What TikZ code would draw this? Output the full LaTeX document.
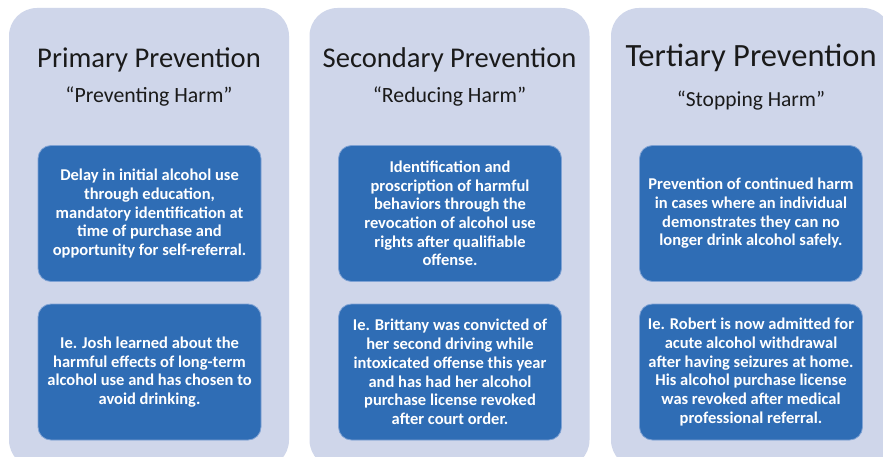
\documentclass[tikz,border=0pt]{standalone}
\usepackage{fontspec}
\setmainfont{Carlito}
\begin{document}
\begin{tikzpicture}[x=1pt,y=-1pt,
  panel/.style={fill=panelfill, rounded corners=28pt, minimum width=280pt, minimum height=460pt, inner sep=0pt},
  infobox/.style={fill=boxfill, draw=boxedge, line width=0.8pt, rounded corners=13pt,
    minimum width=223pt, minimum height=136pt, inner sep=0pt, text=white,
    align=center, font=\bfseries\fontsize{16.5}{18.7}\selectfont},
  title/.style={text=titlecol, anchor=base, font=\fontsize{28.6}{32}\selectfont},
  subtitle/.style={text=titlecol, anchor=base, font=\fontsize{21.8}{25}\selectfont}]
\definecolor{panelfill}{HTML}{CFD6EA}
\definecolor{boxfill}{HTML}{2F6DB5}
\definecolor{boxedge}{HTML}{7FA2D4}
\definecolor{titlecol}{HTML}{1A1A1A}
\useasboundingbox (0,0) rectangle (883,457);
\clip (0,0) rectangle (883,457);
\fill[white] (0,0) rectangle (883,457);

% three columns
\node[panel] (p1) at (149,238) {};
\node[panel] (p2) at (449.5,238) {};
\node[panel] (p3) at (751,238) {};

% headings
\node[title] (t1) at (149,68) {Primary Prevention};
\node[subtitle] (s1) at (149,103) {“Preventing Harm”};
\node[title] (t2) at (449.5,68) {Secondary Prevention};
\node[subtitle] (s2) at (449.5,103) {“Reducing Harm”};
\node[title, font=\fontsize{32.5}{36}\selectfont] (t3) at (751,67) {Tertiary Prevention};
\node[subtitle, font=\fontsize{21.5}{25}\selectfont] (s3) at (751,107) {“Stopping Harm”};

% descriptions
\node[infobox] (d1) at (149.5,213.5) {Delay in initial alcohol use\\through education,\\mandatory identification at\\time of purchase and\\opportunity for self-referral.};
\node[infobox] (d2) at (450,213.5) {Identification and\\proscription of harmful\\behaviors through the\\revocation of alcohol use\\rights after qualifiable\\offense.};
\node[infobox] (d3) at (751,213.5) {Prevention of continued harm\\in cases where an individual\\demonstrates they can no\\longer drink alcohol safely.};

% examples
\node[infobox] (e1) at (149.5,372) {Ie. Josh learned about the\\harmful effects of long-term\\alcohol use and has chosen to\\avoid drinking.};
\node[infobox] (e2) at (450,372) {Ie. Brittany was convicted of\\her second driving while\\intoxicated offense this year\\and has had her alcohol\\purchase license revoked\\after court order.};
\node[infobox] (e3) at (751,372) {Ie. Robert is now admitted for\\acute alcohol withdrawal\\after having seizures at home.\\His alcohol purchase license\\was revoked after medical\\professional referral.};
\end{tikzpicture}
\end{document}
